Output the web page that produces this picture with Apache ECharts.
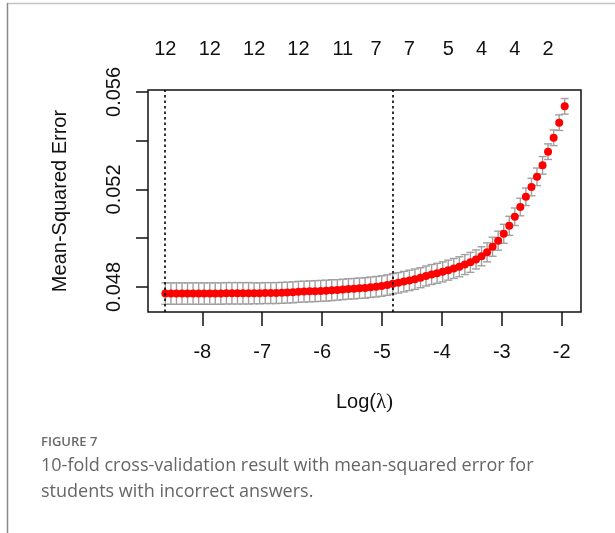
<!DOCTYPE html>
<html>
<head>
<meta charset="utf-8">
<script src="https://cdn.jsdelivr.net/npm/echarts@6/dist/echarts.min.js"></script>
<style>
html,body{margin:0;padding:0;background:#fff;}
#chart{width:615px;height:533px;}
</style>
</head>
<body>
<div id="chart"></div>
<script>
// log(lambda) sequence (x positions of the points)
const logLambda = [
-8.617,-8.524,-8.432,-8.339,-8.247,-8.154,-8.061,-7.969,-7.876,-7.784,
-7.691,-7.598,-7.506,-7.413,-7.321,-7.228,-7.135,-7.043,-6.950,-6.858,
-6.765,-6.672,-6.580,-6.487,-6.395,-6.302,-6.209,-6.117,-6.024,-5.932,
-5.839,-5.746,-5.654,-5.561,-5.469,-5.376,-5.283,-5.191,-5.098,-5.006,
-4.913,-4.820,-4.728,-4.635,-4.543,-4.450,-4.357,-4.265,-4.172,-4.080,
-3.987,-3.894,-3.802,-3.709,-3.617,-3.524,-3.431,-3.339,-3.246,-3.154,
-3.061,-2.968,-2.876,-2.783,-2.691,-2.598,-2.505,-2.413,-2.320,-2.228,
-2.135,-2.042,-1.950
];
// cross-validated mean-squared error
const cvMean = [
0.04773,0.04773,0.04773,0.04773,0.04773,0.04773,0.04773,0.04773,0.04773,0.04773,
0.04773,0.04774,0.04774,0.04774,0.04774,0.04774,0.04774,0.04774,0.04775,0.04775,
0.04775,0.04776,0.04777,0.04778,0.04780,0.04781,0.04782,0.04783,0.04784,0.04785,
0.04787,0.04788,0.04790,0.04792,0.04793,0.04795,0.04796,0.04799,0.04801,0.04804,
0.04808,0.04813,0.04817,0.04822,0.04827,0.04832,0.04838,0.04845,0.04851,0.04856,
0.04862,0.04869,0.04876,0.04883,0.04892,0.04901,0.04913,0.04926,0.04942,0.04965,
0.04990,0.05018,0.05051,0.05088,0.05128,0.05170,0.05210,0.05252,0.05299,0.05355,
0.05412,0.05474,0.05541
];
// standard error (half-length of the error bars)
const cvSE = [
0.00044,0.00044,0.00044,0.00044,0.00044,0.00044,0.00044,0.00044,0.00044,0.00044,
0.00044,0.00044,0.00044,0.00044,0.00044,0.00044,0.00043,0.00043,0.00043,0.00043,
0.00043,0.00043,0.00043,0.00043,0.00043,0.00043,0.00043,0.00043,0.00043,0.00043,
0.00043,0.00042,0.00042,0.00042,0.00042,0.00042,0.00042,0.00042,0.00042,0.00042,
0.00042,0.00042,0.00042,0.00042,0.00042,0.00042,0.00041,0.00041,0.00041,0.00041,
0.00041,0.00041,0.00041,0.00041,0.00041,0.00041,0.00039,0.00039,0.00039,0.00039,
0.00039,0.00039,0.00039,0.00036,0.00036,0.00036,0.00036,0.00036,0.00036,0.00032,
0.00032,0.00032,0.00032
];
// lambda.min and lambda.1se (vertical dotted lines)
const refLines = [-8.617, -4.820];
// number of nonzero coefficients (top axis)
const nzPos = [-8.617,-7.876,-7.135,-6.395,-5.654,-5.098,-4.543,-3.894,-3.339,-2.783,-2.228];
const nzLabels = ['12','12','12','12','11','7','7','5','4','4','2'];
// axis ticks
const xTicks = [-8,-7,-6,-5,-4,-3,-2];
const yTicks = [0.048,0.050,0.052,0.054,0.056];
const yTickLabels = [0.048,0.052,0.056];

const FONT = 'Liberation Sans, Arial, sans-serif';
const chart = echarts.init(document.getElementById('chart'), null, {renderer:'canvas'});

const errData = logLambda.map((x,i)=>[x, cvMean[i], cvSE[i]]);
const ptData = logLambda.map((x,i)=>[x, cvMean[i]]);

chart.setOption({
  animation:false,
  backgroundColor:'#fff',
  grid:{left:148, right:34, top:90, bottom:221, show:true, borderColor:'#111', borderWidth:1.5, backgroundColor:'transparent'},
  xAxis:[{
    type:'value', min:-8.907, max:-1.678, position:'bottom',
    axisLine:{show:false},
    splitLine:{show:false},
    axisTick:{show:true, customValues:xTicks, length:14, lineStyle:{color:'#111', width:1.5}},
    axisLabel:{customValues:xTicks, fontSize:20, color:'#111', fontFamily:FONT, margin:30,
      formatter:v=>String(Math.round(v))},
    name:'{a|Log(}{b|\u03bb)}', nameLocation:'middle', nameGap:80,
    nameTextStyle:{rich:{a:{fontSize:20, fontFamily:FONT, color:'#111'}, b:{fontSize:21, fontFamily:'Liberation Serif, serif', color:'#111'}}}
  },{
    type:'value', min:-8.907, max:-1.678, position:'top',
    axisLine:{show:false}, splitLine:{show:false}, axisTick:{show:false},
    axisLabel:{customValues:nzPos, fontSize:20, color:'#111', fontFamily:FONT, margin:31,
      formatter:v=>{let b=0,d=1e9;nzPos.forEach((p,i)=>{const e=Math.abs(p-v);if(e<d){d=e;b=i;}});return nzLabels[b];}}
  }],
  yAxis:{
    type:'value', min:0.046974, max:0.05608,
    axisLine:{show:false}, splitLine:{show:false},
    axisTick:{show:true, customValues:yTicks, length:12, lineStyle:{color:'#111', width:1.5}},
    axisLabel:{customValues:yTickLabels, rotate:90, fontSize:20, color:'#111', fontFamily:FONT, margin:24,
      formatter:v=>v.toFixed(3)},
    name:'Mean-Squared Error', nameLocation:'middle', nameGap:78, nameRotate:90,
    nameTextStyle:{fontSize:20, fontFamily:FONT, color:'#111'}
  },
  series:[{
    type:'custom',
    data:errData,
    renderItem:(params, api)=>{
      const x=api.value(0), m=api.value(1), s=api.value(2);
      const t=api.coord([x,m+s]), b=api.coord([x,m-s]);
      const w=4;
      const st={stroke:'#a0a0a0', lineWidth:1.4};
      return {type:'group', children:[
        {type:'line', shape:{x1:t[0],y1:t[1],x2:b[0],y2:b[1]}, style:st},
        {type:'line', shape:{x1:t[0]-w,y1:t[1],x2:t[0]+w,y2:t[1]}, style:st},
        {type:'line', shape:{x1:b[0]-w,y1:b[1],x2:b[0]+w,y2:b[1]}, style:st}
      ]};
    },
    z:2
  },{
    type:'scatter',
    data:ptData,
    symbol:'circle', symbolSize:8,
    itemStyle:{color:'#ff0000', opacity:1},
    z:3,
    markLine:{
      silent:true, symbol:['none','none'], label:{show:false},
      lineStyle:{type:[2.5,3], color:'#000', width:1.6},
      data:refLines.map(v=>({xAxis:v}))
    }
  }],
  graphic:[
    {type:'line', shape:{x1:7,y1:3.5,x2:615,y2:3.5}, style:{stroke:'#c4c4c4', lineWidth:1.5}},
    {type:'line', shape:{x1:7.5,y1:3,x2:7.5,y2:533}, style:{stroke:'#8a8a8a', lineWidth:1.5}},
    {type:'text', left:41, top:436, style:{text:'FIGURE 7', fontSize:13, fontWeight:600, fontFamily:'Open Sans, sans-serif', fill:'#6b6b6b'}},
    {type:'text', left:41, top:453, style:{text:'10-fold cross-validation result with mean-squared error for\nstudents with incorrect answers.', fontSize:18, lineHeight:26, fontFamily:'Open Sans, sans-serif', fill:'#666'}}
  ]
});
</script>
</body>
</html>
